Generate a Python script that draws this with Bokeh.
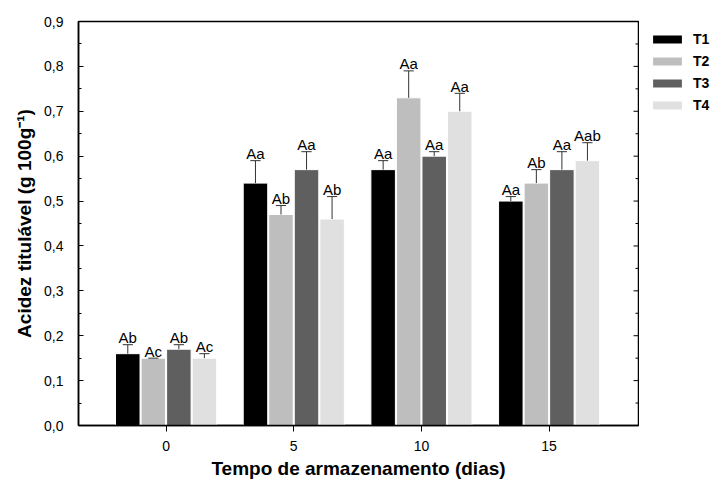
from bokeh.plotting import figure
from bokeh.layouts import row
from bokeh.models import (ColumnDataSource, Range1d, FixedTicker,
                          CustomJSTickFormatter, Legend, LegendItem)
from bokeh.transform import dodge
from bokeh.core.properties import value
from bokeh.embed import file_html
from bokeh.resources import INLINE

# ---- data ----
days = [0, 5, 10, 15]
treatments = ["T1", "T2", "T3", "T4"]
t1_mean = [0.16, 0.54, 0.57, 0.50]
t1_err = [0.02, 0.05, 0.02, 0.01]
t1_lab = ["Ab", "Aa", "Aa", "Aa"]
t2_mean = [0.15, 0.47, 0.73, 0.54]
t2_err = [0.0, 0.02, 0.06, 0.03]
t2_lab = ["Ac", "Ab", "Aa", "Ab"]
t3_mean = [0.17, 0.57, 0.60, 0.57]
t3_err = [0.01, 0.04, 0.01, 0.04]
t3_lab = ["Ab", "Aa", "Aa", "Aa"]
t4_mean = [0.15, 0.46, 0.70, 0.59]
t4_err = [0.01, 0.05, 0.04, 0.04]
t4_lab = ["Ac", "Ab", "Aa", "Aab"]
y_ticks = [0.0, 0.1, 0.2, 0.3, 0.4, 0.5, 0.6, 0.7, 0.8, 0.9]
y_minor = [0.05, 0.15, 0.25, 0.35, 0.45, 0.55, 0.65, 0.75, 0.85]

series = [(t1_mean, t1_err, t1_lab), (t2_mean, t2_err, t2_lab),
          (t3_mean, t3_err, t3_lab), (t4_mean, t4_err, t4_lab)]
colors = ["#000000", "#bebebe", "#5f5f5f", "#e0e0e0"]
offsets = [-1.5, -0.5, 0.5, 1.5]

FONT = "Liberation Sans"
X_START, X_END = -3.43, 18.5

p = figure(frame_width=560, frame_height=404, output_backend="svg",
           toolbar_location=None, x_range=Range1d(X_START, X_END),
           y_range=Range1d(0, 0.9),
           min_border_left=78, min_border_top=21, min_border_bottom=57,
           min_border_right=1)
p.xgrid.visible = False
p.ygrid.visible = False
p.outline_line_color = "black"
p.outline_line_width = 1.5
p.background_fill_color = "white"
p.border_fill_color = "white"

for name, (m, e, lab), col, off in zip(treatments, series, colors, offsets):
    top = [a + b for a, b in zip(m, e)]
    src = ColumnDataSource(dict(day=days, mean=m, top=top, label=lab))
    p.vbar(x=dodge("day", off, range=p.x_range), top="mean", bottom=0,
           width=0.96, source=src, fill_color=col, line_color="white",
           line_width=1)
    p.segment(x0=dodge("day", off, range=p.x_range), y0="mean",
              x1=dodge("day", off, range=p.x_range), y1="top",
              source=src, line_color="#333333", line_width=1)
    p.segment(x0=dodge("day", off - 0.2, range=p.x_range), y0="top",
              x1=dodge("day", off + 0.2, range=p.x_range), y1="top",
              source=src, line_color="#333333", line_width=1)
    p.text(x=dodge("day", off, range=p.x_range), y="top", text="label",
           source=src, text_align="center", text_baseline="alphabetic",
           y_offset=-7, text_font=value(FONT), text_font_size="15px",
           text_color="black")

# right-border inward ticks (half of each dash is clipped by the frame)
p.scatter(x=[X_END] * len(y_ticks), y=y_ticks, marker="dash", size=10,
          line_color="black", line_width=1)
p.scatter(x=[X_END] * len(y_minor), y=y_minor, marker="dash", size=6,
          line_color="black", line_width=1)

# x axis
xa = p.xaxis[0]
xa.ticker = FixedTicker(ticks=days)
xa.axis_label = "Tempo de armazenamento (dias)"
xa.axis_label_text_font = FONT
xa.axis_label_text_font_style = "bold"
xa.axis_label_text_font_size = "19px"
xa.axis_label_text_color = "black"
xa.axis_label_standoff = 4
xa.major_label_text_font = FONT
xa.major_label_text_font_size = "14px"
xa.major_label_text_color = "black"
xa.major_label_standoff = 9
xa.major_tick_in = 0
xa.major_tick_out = 6
xa.minor_tick_line_color = None
xa.axis_line_width = 1.5
xa.axis_line_color = "black"
xa.major_tick_line_color = "black"

# y axis
ya = p.yaxis[0]
ya.ticker = FixedTicker(ticks=y_ticks, minor_ticks=y_minor)
ya.formatter = CustomJSTickFormatter(code="return tick.toFixed(1).replace('.', ',');")
ya.axis_label = "Acidez titulável (g 100g⁻¹)"
ya.axis_label_text_font = FONT
ya.axis_label_text_font_style = "bold"
ya.axis_label_text_font_size = "19px"
ya.axis_label_text_color = "black"
ya.axis_label_standoff = 6
ya.major_label_text_font = FONT
ya.major_label_text_font_size = "14px"
ya.major_label_text_color = "black"
ya.major_label_standoff = 15
ya.major_tick_in = 5
ya.major_tick_out = 0
ya.minor_tick_in = 3
ya.minor_tick_out = 0
ya.axis_line_width = 1.5
ya.axis_line_color = "black"

# ---- legend panel (separate small figure to the right) ----
lg = figure(width=74, height=482, output_backend="svg", toolbar_location=None,
            x_axis_location=None, y_axis_location=None,
            x_range=Range1d(0, 1), y_range=Range1d(0, 1),
            min_border_left=0, min_border_right=0, min_border_bottom=0,
            min_border_top=21)
lg.xgrid.visible = False
lg.ygrid.visible = False
lg.outline_line_color = None
lg.background_fill_color = "white"
lg.border_fill_color = "white"
items = []
for name, col in zip(treatments, colors):
    # zero-height proxy bar: only its swatch is shown in the legend
    r = lg.vbar(x=[0.5], top=[0], bottom=0, width=0.5, fill_color=col,
                line_color=None)
    items.append(LegendItem(label=name, renderers=[r]))

legend = Legend(items=items, location="top_left", orientation="vertical")
legend.glyph_width = 36
legend.glyph_height = 10
legend.label_height = 14
legend.label_width = 16
legend.spacing = 6
legend.padding = 3
legend.margin = 10
legend.label_standoff = 8
legend.label_text_font = FONT
legend.label_text_font_style = "bold"
legend.label_text_font_size = "14px"
legend.label_text_color = "black"
legend.border_line_color = None
legend.background_fill_alpha = 0
lg.add_layout(legend, "center")

layout = row(p, lg)
open("out.html", "w").write(file_html(layout, INLINE))
